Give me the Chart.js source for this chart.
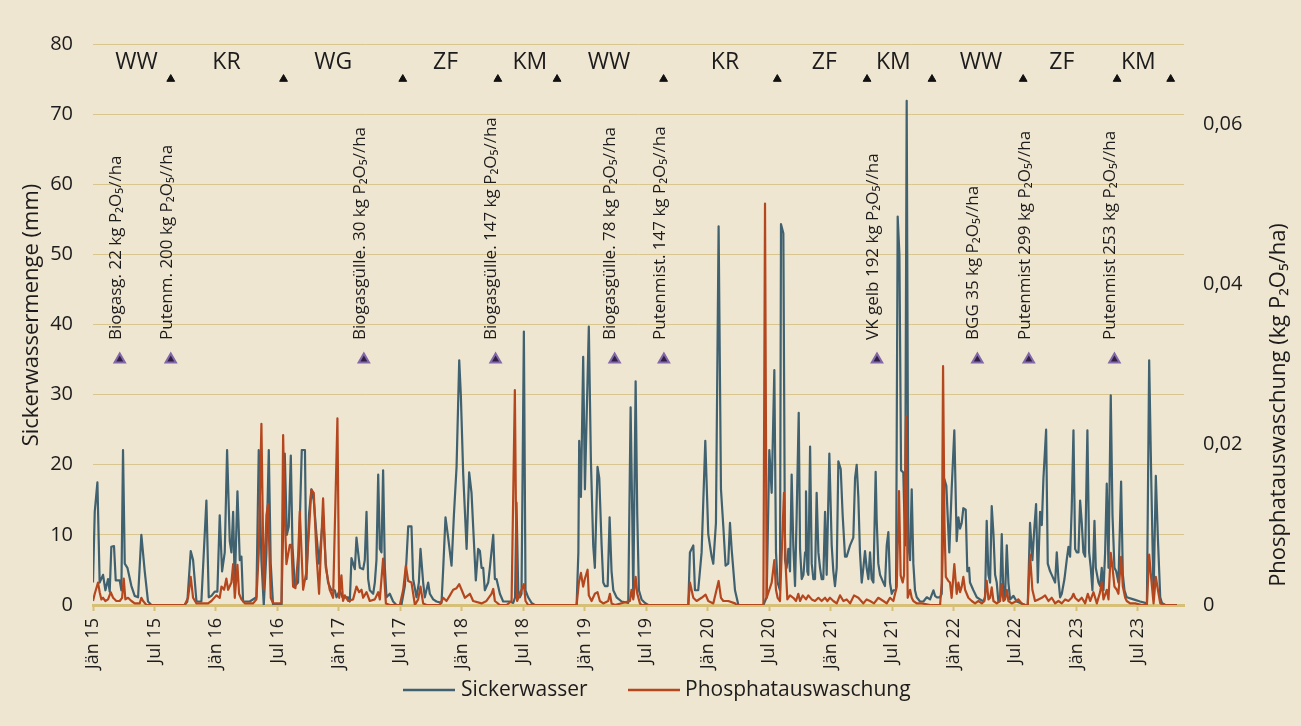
<!DOCTYPE html>
<html>
<head>
<meta charset="utf-8">
<script src="https://cdn.jsdelivr.net/npm/chart.js@4.4.1/dist/chart.umd.min.js"></script>
<style>
html,body{margin:0;padding:0;background:#efe6d2;}
canvas{display:block;}
</style>
</head>
<body>
<canvas id="c" width="1301" height="726"></canvas>
<script>
// ---- x axis: months since Jan 2015 ----
const xTickMonate = [0,6,12,18,24,30,36,42,48,54,60,66,72,78,84,90,96,102];
const xTickLabels = ['Jän 15','Jul 15','Jän 16','Jul 16','Jän 17','Jul 17','Jän 18','Jul 18','Jän 19','Jul 19','Jän 20','Jul 20','Jän 21','Jul 21','Jän 22','Jul 22','Jän 23','Jul 23'];
const xMax = 106.5;

// ---- y axes ----
const yLinksTicks = [0,10,20,30,40,50,60,70,80];
const yRechtsTicks = [0,0.02,0.04,0.06];
const yRechtsMax = 0.07;

// ---- crop rotation (top row) ----
const kulturen = ['WW','KR','WG','ZF','KM','WW','KR','ZF','KM','WW','ZF','KM'];
const kulturMonat = [4.24,13.03,23.44,34.41,42.65,50.36,61.69,71.39,78.13,86.69,94.57,102.05];
const kulturY = 77.3;
const wechselMonat = [7.59,18.6,30.24,39.52,45.3,55.7,66.8,75.56,81.9,90.8,99.97,105.2];
const wechselY = 75;

// ---- fertilisation events ----
const duengungText = [
  'Biogasg. 22 kg P\u2082O\u2085//ha',
  'Putenm. 200 kg P\u2082O\u2085//ha',
  'Biogasgülle. 30 kg P\u2082O\u2085//ha',
  'Biogasgülle. 147 kg P\u2082O\u2085//ha',
  'Biogasgülle. 78 kg P\u2082O\u2085//ha',
  'Putenmist. 147 kg P\u2082O\u2085//ha',
  'VK gelb 192 kg P\u2082O\u2085//ha',
  'BGG 35 kg P\u2082O\u2085//ha',
  'Putenmist 299 kg P\u2082O\u2085//ha',
  'Putenmist 253 kg P\u2082O\u2085//ha'
];
const duengungMonat = [2.61,7.59,26.44,39.3,50.92,55.73,76.53,86.33,91.35,99.71];
const duengungY = 35;
const duengungTextY = 37.8;

// ---- Sickerwasser (mm) ----
const sickerMonat = [
0.00,0.17,0.43,0.65,0.98,1.21,1.47,1.63,1.79,2.05,2.22,2.61,2.77,2.93,3.10,3.36,3.75,4.07,4.40,4.72,5.05,5.37,5.70,
8.95,9.21,9.54,9.77,10.10,10.58,11.07,11.30,11.56,11.88,12.14,12.37,12.60,12.86,13.09,13.35,13.51,13.68,13.84,14.10,14.33,14.49,14.65,15.30,15.95,16.18,16.44,16.67,16.93,17.16,17.35,17.58,18.40,18.72,18.92,19.11,19.31,19.47,19.70,20.02,20.38,20.69,20.84,
21.09,21.32,21.55,21.81,22.07,22.46,22.72,22.95,23.27,23.60,23.77,24.09,24.35,24.91,25.07,25.23,25.39,25.56,25.72,25.88,26.05,26.37,26.53,26.70,26.86,27.02,27.35,27.51,27.67,27.84,28.00,28.16,28.32,28.49,28.65,28.97,29.30,29.62,
30.11,30.44,30.60,30.77,31.09,31.25,31.58,31.81,31.97,32.23,32.39,32.72,32.88,33.21,33.53,34.02,34.19,34.41,34.67,35.00,35.23,35.49,35.75,35.91,36.14,36.47,36.72,36.95,37.11,37.37,37.60,37.77,37.93,38.09,38.25,38.58,38.74,39.07,39.23,39.39,39.72,40.04,40.69,41.02,41.20,41.34,41.51,41.67,41.83,
42.06,42.22,42.48,42.81,43.13,47.21,47.38,47.46,47.63,47.85,48.02,48.40,48.60,48.83,48.99,49.25,49.42,49.65,49.81,49.97,50.24,50.43,50.62,50.79,51.11,51.60,52.25,52.48,52.64,52.74,52.97,53.13,53.29,53.55,53.88,54.20,
58.11,58.27,58.60,58.76,59.08,59.41,59.77,60.06,60.39,60.55,60.81,61.07,61.30,61.53,61.75,62.01,62.18,62.34,62.67,63.00,65.44,65.76,66.02,66.25,66.51,66.67,66.83,67.06,67.16,67.39,67.55,67.71,67.88,68.04,68.20,68.36,68.53,68.69,68.89,69.02,69.18,69.35,69.51,69.60,69.73,69.83,
70.00,70.16,70.32,70.48,70.64,70.81,70.97,71.13,71.29,71.46,71.62,71.88,72.11,72.27,72.43,72.60,72.76,72.99,73.18,73.41,73.57,73.90,74.22,74.39,74.55,74.71,74.87,75.04,75.20,75.36,75.52,75.69,75.85,76.01,76.18,76.40,76.50,76.66,76.83,77.15,77.31,77.48,77.64,77.80,77.97,
78.13,78.39,78.55,78.72,78.88,79.10,79.27,79.43,79.59,79.76,79.92,80.08,80.24,80.41,80.73,81.06,81.39,81.71,82.04,82.20,82.36,82.69,82.85,83.10,83.30,83.59,83.82,84.08,84.31,84.48,84.64,84.80,84.96,85.19,85.35,85.52,85.61,85.94,86.27,86.59,86.92,87.08,87.24,87.41,87.57,87.73,87.90,88.06,88.22,88.38,88.55,88.71,88.87,89.03,89.20,89.36,89.52,89.85,90.17,90.99,
91.25,91.47,91.70,91.90,92.06,92.23,92.45,92.62,92.78,93.04,93.20,93.43,93.59,93.92,94.08,94.24,94.41,94.57,94.83,95.05,95.22,95.38,95.54,95.71,95.87,96.03,96.20,96.36,96.52,96.68,96.85,97.07,97.24,97.40,97.56,97.76,97.89,98.15,98.31,98.47,98.64,98.80,98.96,99.13,99.35,99.52,99.71,99.88,
100.10,100.36,100.53,100.69,100.91,101.57,102.22,102.71,102.88,103.10,103.30,103.53,103.75,103.95,104.18,104.34,104.66,105.80
];
const sickerMm = [
3.2,13.3,17.5,3.2,4.3,2.1,3.7,1.9,8.3,8.4,3.5,3.5,2.1,22.1,5.9,5.3,2.7,1.3,1.1,10.0,4.8,0.5,0,
0,0.5,7.7,6.4,0.5,0.5,14.9,1.1,1.3,1.9,1.9,12.8,4.8,7.5,22.1,9.1,7.5,13.3,2.7,16.2,6.4,6.9,0.5,0.5,1.1,22.1,6.4,0,7.5,22.1,5.9,0,0,21.6,10.0,11.2,21.3,8.5,2.7,3.2,22.1,22.1,3.7,
13.0,16.5,14.9,10.1,5.9,12.8,5.9,3.2,2.1,2.1,1.1,2.1,1.1,1.1,0.5,6.7,5.9,5.1,9.6,7.5,5.3,5.1,6.4,13.3,3.7,2.1,1.6,3.2,6.4,18.6,8.0,7.5,19.2,5.3,1.1,1.6,0.5,0,
0,2.7,6.4,11.2,11.2,3.7,1.1,3.2,8.0,3.2,1.1,3.2,1.6,0.8,0.5,0.3,5.3,12.5,9.6,5.6,12.8,19.7,34.9,29.8,18.6,8.0,18.9,16.0,11.2,3.5,8.0,7.7,5.3,5.3,2.1,3.2,5.3,10.0,3.7,3.7,1.6,0.5,0.5,0.3,1.1,14.6,2.1,1.1,1.6,
39.0,2.1,1.1,0.3,0,0,7.5,23.4,15.4,35.4,16.5,39.7,20.8,8.5,5.3,19.7,18.1,8.5,3.2,2.7,2.7,12.5,4.8,2.1,1.1,0.5,0.3,28.2,12.8,1.1,31.9,12.8,2.1,0.8,0.3,0,
0,7.5,8.5,2.1,2.1,7.5,23.4,10.1,6.9,5.9,11.7,54.0,16.5,11.2,5.6,5.9,11.7,8.0,2.1,0,0,1.1,22.1,16.0,33.5,7.5,3.2,2.1,54.3,53.0,6.4,5.3,8.0,4.8,18.6,8.5,2.7,12.8,27.4,8.0,3.7,4.3,7.5,16.2,4.8,4.3,
22.6,5.9,3.7,3.7,16.0,7.5,5.3,3.7,3.7,13.3,4.3,21.6,8.5,4.8,2.7,5.3,20.5,19.4,12.8,6.9,6.9,8.5,9.6,18.1,20.0,15.4,7.5,3.2,5.3,7.7,5.3,3.7,7.5,3.7,3.2,19.0,12.2,5.9,4.3,3.2,2.7,8.5,10.4,3.2,1.6,
2.1,2.1,55.4,50.0,19.2,18.9,8.5,71.9,8.5,6.4,16.5,5.9,2.1,1.1,0.5,0.5,1.1,0.8,2.1,1.3,1.1,1.1,1.6,18.0,17.0,7.5,16.5,24.9,9.1,12.5,10.9,11.7,13.8,13.6,4.8,5.3,3.2,2.1,1.1,0.8,0.5,1.1,12.0,4.3,3.2,14.1,10.1,4.3,3.2,0.5,1.1,10.1,1.6,1.1,8.5,3.2,0.8,1.3,0.5,0,
0,11.7,6.4,11.2,14.4,3.2,13.3,11.4,18.1,25.0,5.9,4.8,4.3,3.2,7.5,3.7,1.1,1.6,3.7,6.4,8.3,6.9,13.8,24.9,8.0,7.5,7.5,14.9,11.7,7.5,6.9,24.9,7.5,5.3,2.1,12.0,5.3,3.2,2.7,5.3,2.1,7.5,17.3,5.3,29.9,12.8,5.3,4.8,
3.2,17.6,4.3,2.1,1.1,0.8,0.5,0.3,0,34.9,18.1,1.1,18.4,9.6,1.1,0.3,0,0
];

// ---- Phosphatauswaschung (kg P2O5/ha) ----
const phosMonat = [
0.00,0.17,0.49,0.65,0.82,0.98,1.21,1.47,1.73,1.96,2.28,2.61,2.84,3.00,3.16,3.42,3.75,4.07,4.56,4.72,4.89,5.21,
8.95,9.28,9.54,9.77,10.10,11.23,11.56,12.05,12.37,12.54,12.80,13.02,13.19,13.51,13.68,13.84,14.10,14.26,14.49,14.82,15.63,15.95,16.18,16.44,16.67,16.93,17.09,17.35,17.58,18.40,18.56,18.72,18.88,19.21,19.37,19.53,19.76,20.02,20.19,20.51,20.84,
21.32,21.55,21.81,22.07,22.46,22.72,23.11,23.44,23.86,24.03,24.25,24.41,24.58,24.91,25.39,25.72,25.98,26.21,26.37,26.70,27.02,27.51,27.84,28.00,28.32,28.59,28.97,
29.95,30.28,30.54,30.77,31.09,31.42,31.74,31.97,32.23,32.56,33.86,34.19,34.51,34.84,35.16,35.49,35.75,35.98,36.30,36.79,37.11,37.93,38.41,38.90,39.07,39.23,39.72,40.37,40.86,41.18,41.28,41.40,
42.06,42.22,42.48,47.21,47.43,47.63,47.85,48.02,48.28,48.40,48.67,48.99,49.25,49.48,49.81,50.29,50.46,50.62,50.95,52.41,52.57,52.74,52.97,53.13,53.39,53.55,
58.11,58.27,58.60,58.92,59.41,59.80,60.06,60.55,61.07,61.30,61.53,62.01,62.67,62.83,65.44,65.60,65.76,66.02,66.25,66.51,66.67,66.83,67.06,67.22,67.45,67.61,67.78,68.04,68.36,68.63,68.85,69.02,69.28,69.60,69.83,
70.16,70.48,70.81,71.13,71.46,71.69,71.94,72.27,72.60,72.92,73.25,73.57,73.90,74.29,74.71,75.20,75.52,75.85,76.24,76.66,77.15,77.48,77.80,
78.13,78.46,78.68,78.84,79.04,79.17,79.37,79.53,79.76,79.92,80.08,80.41,80.90,81.71,82.69,82.85,82.98,83.12,83.25,83.50,83.66,83.82,84.08,84.31,84.48,84.64,84.80,84.96,85.13,85.29,85.45,85.78,86.10,86.43,86.76,87.02,87.24,87.41,87.57,87.73,87.90,88.22,88.55,88.71,88.87,89.03,89.20,89.36,89.68,90.17,90.33,90.66,90.99,
91.25,91.47,91.70,91.96,92.29,92.62,92.94,93.27,93.59,93.92,94.24,94.57,94.90,95.22,95.54,95.71,95.87,96.20,96.52,96.85,97.11,97.34,97.66,97.83,97.99,98.31,98.47,98.64,98.96,99.13,99.35,99.52,99.71,99.94,
100.10,100.36,100.53,100.76,100.91,101.24,101.73,102.38,102.88,103.10,103.30,103.53,103.75,103.95,104.18,104.66,105.80
];
const phosKg = [
0.0005,0.0014,0.0028,0.0016,0.0007,0.0009,0.0005,0.0007,0.0016,0.0009,0.0005,0.0005,0.0009,0.0033,0.0007,0.0009,0.0005,0.0002,0.0002,0.0009,0.0005,0,
0,0.0009,0.0035,0.0009,0.0002,0.0002,0.0005,0.0012,0.0009,0.0023,0.0019,0.0033,0.0019,0.0028,0.0051,0.0009,0.0050,0.0014,0.0007,0.0002,0.0002,0.0007,0.0065,0.0226,0.0019,0.0112,0.0126,0.0009,0.0002,0.0002,0.0212,0.0112,0.0051,0.0075,0.0075,0.0023,0.0021,0.0061,0.0117,0.0019,0.0042,
0.0144,0.0140,0.0065,0.0014,0.0133,0.0047,0.0019,0.0009,0.0233,0.0009,0.0037,0.0005,0.0012,0.0005,0.0007,0.0023,0.0016,0.0019,0.0009,0.0016,0.0005,0.0007,0.0016,0.0007,0.0058,0.0002,0,
0,0.0019,0.0049,0.0030,0.0028,0,0.0007,0.0023,0.0002,0,0,0.0009,0.0005,0.0012,0.0019,0.0021,0.0026,0.0019,0.0009,0.0014,0.0005,0.0002,0.0005,0.0014,0.0020,0.0005,0,0,0.0005,0.0268,0.0127,0.0005,
0.0026,0.0005,0,0,0.0028,0.0040,0.0023,0.0033,0.0044,0.0012,0.0005,0.0014,0.0016,0.0005,0.0002,0.0005,0.0014,0.0002,0,0.0005,0.0019,0.0007,0.0035,0.0014,0.0002,0,
0,0.0028,0.0009,0.0005,0.0009,0.0013,0.0005,0.0002,0.0030,0.0009,0.0005,0.0005,0.0002,0,0,0.0501,0.0009,0.0019,0.0028,0.0056,0.0019,0.0009,0.0005,0.0061,0.0140,0.0051,0.0007,0.0012,0.0009,0.0005,0.0014,0.0005,0.0012,0.0007,0.0012,
0.0007,0.0005,0.0009,0.0005,0.0009,0.0005,0.0009,0.0005,0.0002,0.0012,0.0005,0.0007,0.0002,0.0012,0.0009,0.0002,0.0007,0.0005,0.0002,0.0009,0.0005,0.0002,0.0009,
0.0005,0.0023,0.0142,0.0037,0.0028,0.0037,0.0235,0.0009,0.0019,0.0009,0.0005,0.0002,0.0002,0,0,0.0028,0.0298,0.0100,0.0035,0.0030,0.0028,0.0009,0.0051,0.0014,0.0028,0.0016,0.0023,0.0035,0.0019,0.0014,0.0009,0.0005,0.0002,0.0005,0.0002,0.0005,0.0030,0.0007,0.0009,0.0022,0.0005,0.0002,0.0005,0.0026,0.0005,0.0007,0.0019,0.0005,0.0002,0.0005,0.0007,0.0002,0,
0,0.0063,0.0019,0.0005,0.0007,0.0009,0.0012,0.0005,0.0009,0.0002,0.0005,0.0002,0.0007,0.0005,0.0009,0.0014,0.0009,0.0005,0.0009,0.0002,0.0014,0.0005,0.0016,0.0009,0.0002,0.0016,0.0028,0.0007,0.0019,0.0007,0.0065,0.0047,0.0023,0.0019,
0.0014,0.0060,0.0023,0.0009,0.0005,0.0002,0.0002,0,0,0.0063,0.0033,0.0002,0.0035,0.0019,0.0002,0,0
];

// ---- styles ----
const FONT = '"Open Sans", "Noto Sans", sans-serif';
const COL_BG = '#efe6d2';
const COL_BLUE = '#3f6170';
const COL_RED = '#b5471f';
const COL_GRID = '#d8c68e';
const COL_AXIS = '#d6c078';
const COL_TEXT = '#1c1c1c';

const toPoints = (xs, ys) => xs.map((v, i) => ({x: v, y: ys[i]}));

const overlay = {
  id: 'overlay',
  beforeDraw(chart) {
    const ctx = chart.ctx;
    ctx.save();
    ctx.fillStyle = COL_BG;
    ctx.fillRect(0, 0, chart.width, chart.height);
    ctx.restore();
  },
  afterDatasetsDraw(chart) {
    const {ctx, scales: {x, y}, chartArea} = chart;
    ctx.save();
    ctx.fillStyle = COL_TEXT;
    // crop labels
    ctx.font = '23px ' + FONT;
    ctx.textAlign = 'center';
    ctx.textBaseline = 'middle';
    kulturen.forEach((k, i) => {
      ctx.fillText(k, x.getPixelForValue(kulturMonat[i]), y.getPixelForValue(kulturY));
    });
    // fertilisation texts
    ctx.font = '17px ' + FONT;
    ctx.textAlign = 'left';
    duengungText.forEach((t, i) => {
      ctx.save();
      ctx.translate(x.getPixelForValue(duengungMonat[i]) - 4, y.getPixelForValue(duengungTextY));
      ctx.rotate(-Math.PI / 2);
      ctx.fillText(t, 0, 0);
      ctx.restore();
    });
    // axis titles
    ctx.font = '22px ' + FONT;
    ctx.textAlign = 'center';
    ctx.save();
    ctx.translate(32, 315);
    ctx.rotate(-Math.PI / 2);
    ctx.fillText('Sickerwassermenge (mm)', 0, 0);
    ctx.restore();
    ctx.save();
    ctx.translate(1279, 405);
    ctx.rotate(-Math.PI / 2);
    ctx.fillText('Phosphatauswaschung (kg P\u2082O\u2085/ha)', 0, 0);
    ctx.restore();
    // legend
    const ly = 690;
    ctx.font = '21px ' + FONT;
    ctx.textAlign = 'left';
    ctx.lineWidth = 2.5;
    ctx.strokeStyle = COL_BLUE;
    ctx.beginPath(); ctx.moveTo(403, ly); ctx.lineTo(455, ly); ctx.stroke();
    ctx.fillText('Sickerwasser', 461, ly);
    ctx.strokeStyle = COL_RED;
    ctx.beginPath(); ctx.moveTo(628, ly); ctx.lineTo(680, ly); ctx.stroke();
    ctx.fillText('Phosphatauswaschung', 685, ly);
    ctx.restore();
  }
};

new Chart(document.getElementById('c'), {
  data: {
    datasets: [
      {
        type: 'line', label: 'Sickerwasser', data: toPoints(sickerMonat, sickerMm),
        xAxisID: 'x', yAxisID: 'y', borderColor: COL_BLUE, backgroundColor: COL_BLUE,
        borderWidth: 2.2, pointRadius: 0, tension: 0, borderJoinStyle: 'round', order: 3
      },
      {
        type: 'line', label: 'Phosphatauswaschung', data: toPoints(phosMonat, phosKg),
        xAxisID: 'x', yAxisID: 'y1', borderColor: COL_RED, backgroundColor: COL_RED,
        borderWidth: 2.2, pointRadius: 0, tension: 0, borderJoinStyle: 'round', order: 2
      },
      {
        type: 'scatter', label: 'Fruchtwechsel', data: wechselMonat.map(m => ({x: m, y: wechselY})),
        xAxisID: 'x', yAxisID: 'y', pointStyle: 'triangle', pointRadius: 4.5,
        backgroundColor: '#111111', borderColor: '#111111', borderWidth: 1, order: 1
      },
      {
        type: 'scatter', label: 'Düngung', data: duengungMonat.map(m => ({x: m, y: duengungY})),
        xAxisID: 'x', yAxisID: 'y', pointStyle: 'triangle', pointRadius: 6,
        backgroundColor: '#2e2244', borderColor: '#8467a8', borderWidth: 2, order: 1
      }
    ]
  },
  options: {
    responsive: false,
    animation: false,
    devicePixelRatio: 1,
    layout: { padding: { top: 44, bottom: 41, left: 0, right: 0 } },
    plugins: { legend: { display: false }, tooltip: { enabled: false } },
    scales: {
      x: {
        type: 'linear', position: 'bottom', min: 0, max: xMax,
        afterBuildTicks: s => { s.ticks = xTickMonate.map(v => ({value: v})); },
        afterFit: s => { s.height = 80; },
        ticks: {
          autoSkip: false, minRotation: 90, maxRotation: 90, padding: 7,
          color: COL_TEXT, font: { family: FONT, size: 18 },
          callback: (v, i) => xTickLabels[i]
        },
        grid: { drawOnChartArea: false, drawTicks: true, tickLength: 6, tickColor: COL_AXIS, tickWidth: 2 },
        border: { display: true, color: COL_AXIS, width: 3 }
      },
      y: {
        type: 'linear', position: 'left', min: 0, max: 80,
        afterBuildTicks: s => { s.ticks = yLinksTicks.map(v => ({value: v})); },
        afterFit: s => { s.width = 93; },
        ticks: { padding: 20, color: COL_TEXT, font: { family: FONT, size: 20 } },
        grid: { color: COL_GRID, lineWidth: 1, drawTicks: false },
        border: { display: false }
      },
      y1: {
        type: 'linear', position: 'right', min: 0, max: yRechtsMax,
        afterBuildTicks: s => { s.ticks = yRechtsTicks.map(v => ({value: v})); },
        afterFit: s => { s.width = 117; },
        ticks: {
          padding: 19, color: COL_TEXT, font: { family: FONT, size: 20 },
          callback: v => v === 0 ? '0' : v.toFixed(2).replace('.', ',')
        },
        grid: { display: false, drawTicks: false },
        border: { display: false }
      }
    }
  },
  plugins: [overlay]
});
</script>
</body>
</html>
